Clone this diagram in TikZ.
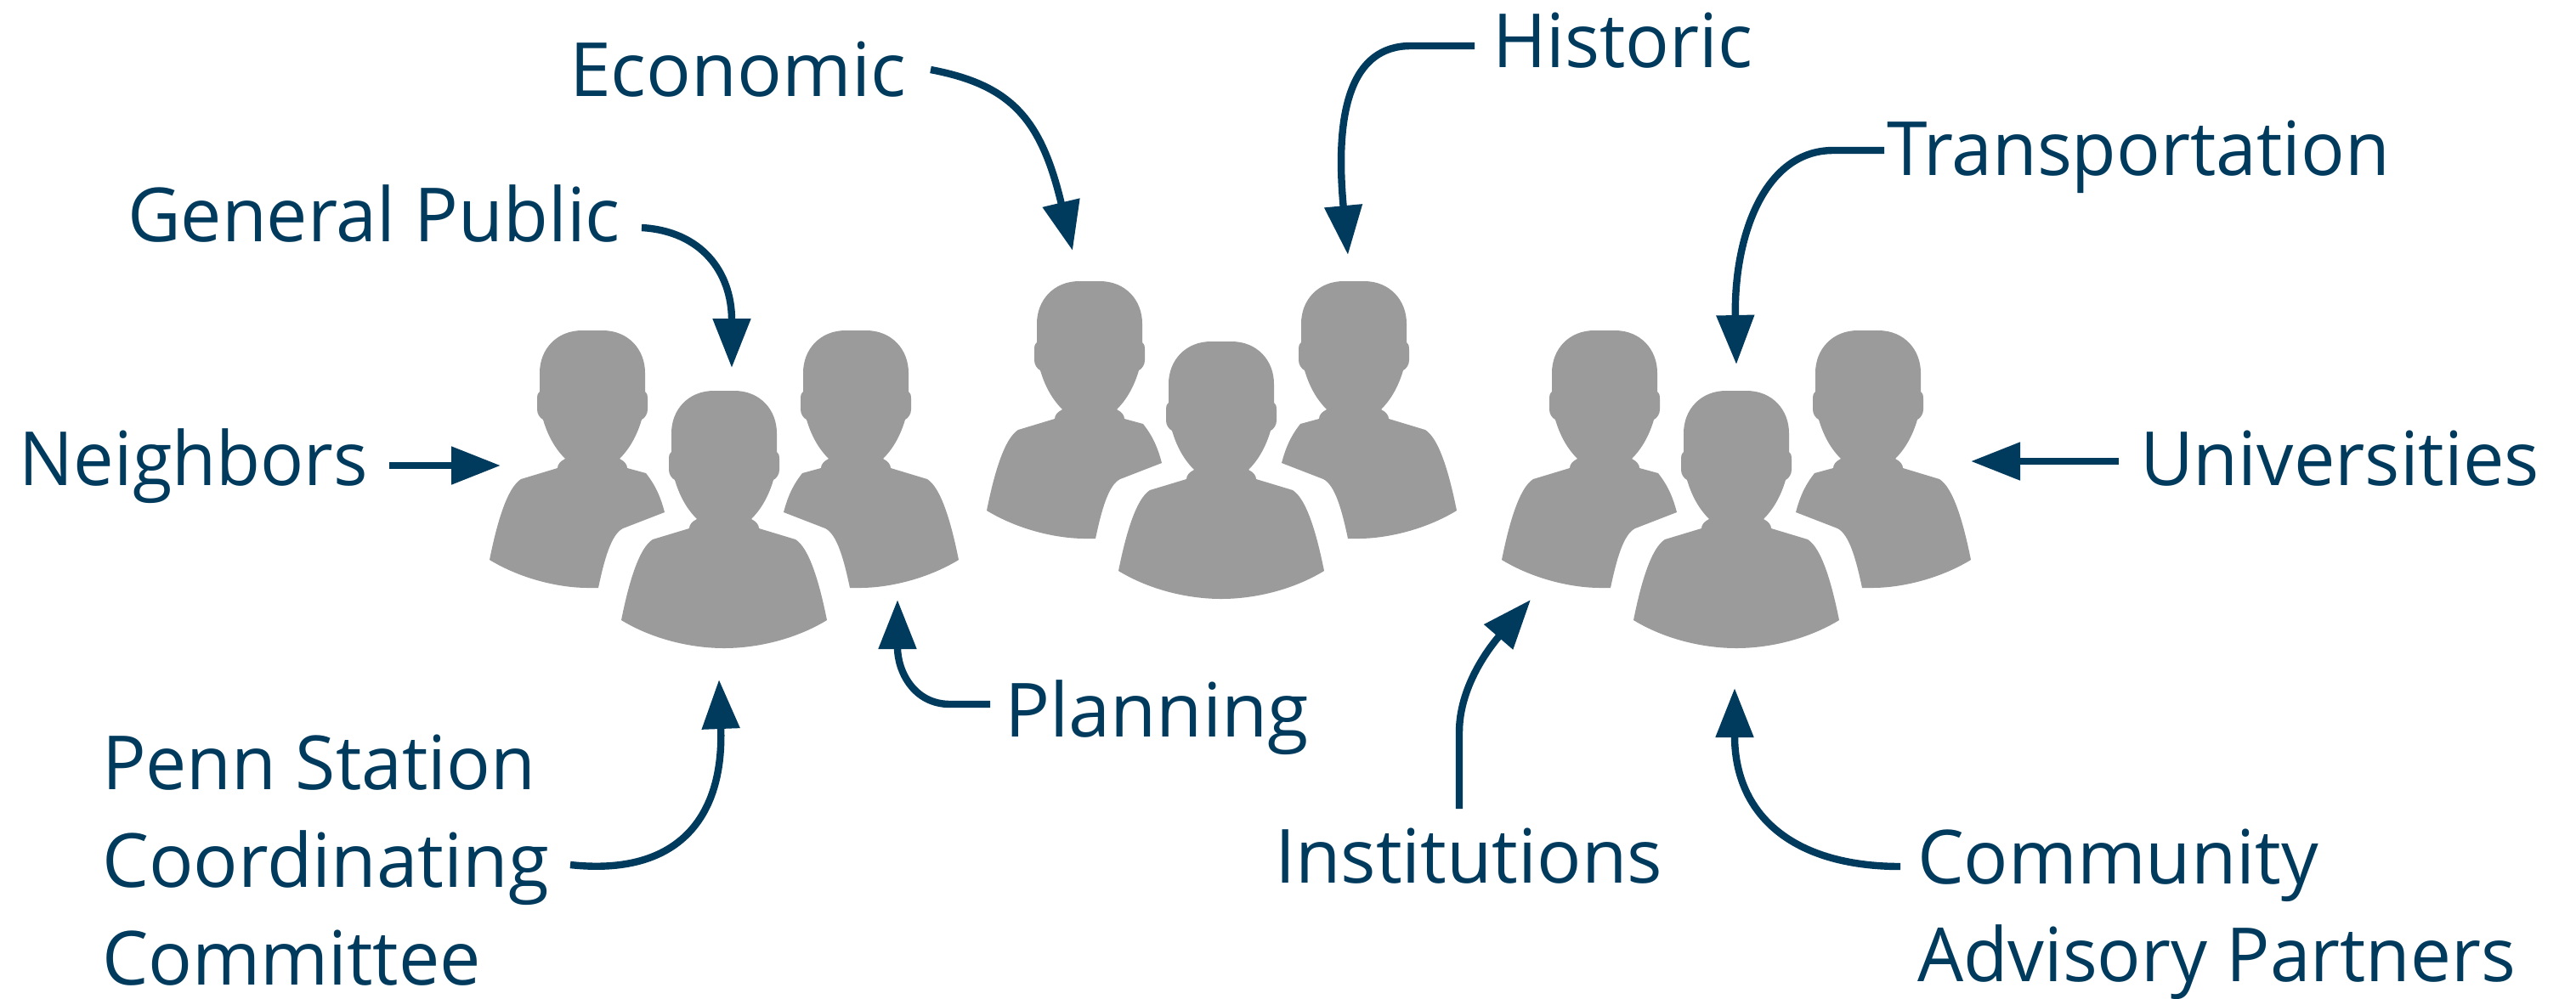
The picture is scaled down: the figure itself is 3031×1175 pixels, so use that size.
\documentclass[tikz,border=0pt]{standalone}
\usepackage{fontspec}
\usepackage{graphicx}
\setmainfont{Open Sans}
\usetikzlibrary{arrows.meta}
\definecolor{navy}{HTML}{003A5D}
\definecolor{figgray}{HTML}{9B9B9B}
\newsavebox{\fitbox}
% \fitline{target width in px}{text}: sets text on one line, narrowed to the measured width
\newcommand{\fitline}[2]{\sbox{\fitbox}{#2}\pgfmathsetmacro{\fitratio}{(#1*0.5)/(\wd\fitbox/1pt)}\scalebox{\fitratio}[1]{\usebox{\fitbox}}}
\tikzset{
  x=0.5pt,y=-0.5pt,
  lbl/.style={inner sep=0pt,outer sep=0pt,anchor=base west,text=navy,font=\fontsize{44}{57.5}\selectfont},
  conn/.style={draw=navy,line width=4.2pt,-{Triangle[length=29pt,width=21.5pt]}},
  person/.style={fill=figgray,draw=none},
}
% full figure: #1 = centre x, #2 = top y
\newcommand{\fullperson}[2]{%
\fill[person,shift={(#1,#2)}] (-12,0) .. controls (-42,0) and (-62,22) .. (-62,50) -- (-62,72)
 .. controls (-65,75) and (-65,77) .. (-65,80) -- (-65,93) .. controls (-65,98) and (-62,103) .. (-58,105)
 .. controls (-53,122) and (-45,138) .. (-32,151) .. controls (-38,154) and (-41,158) .. (-41,162)
 -- (-84,175) .. controls (-100,185) and (-112,225) .. (-121,270)
 .. controls (-85,292) and (-40,303) .. (0,303) .. controls (40,303) and (85,292) .. (121,270)
 .. controls (112,225) and (100,185) .. (84,175) -- (41,162) .. controls (41,158) and (38,154) .. (32,151)
 .. controls (45,138) and (53,122) .. (58,105) .. controls (62,103) and (65,98) .. (65,93) -- (65,80)
 .. controls (65,77) and (65,75) .. (62,72) -- (62,50) .. controls (62,22) and (42,0) .. (12,0) -- cycle;}
% back figure, open to the right; mirror with #3=-1
\newcommand{\backperson}[3]{%
\fill[person,shift={(#1,#2)},xscale=#3] (-12,0) .. controls (-42,0) and (-62,22) .. (-62,50) -- (-62,72)
 .. controls (-65,75) and (-65,77) .. (-65,80) -- (-65,93) .. controls (-65,98) and (-62,103) .. (-58,105)
 .. controls (-53,122) and (-45,138) .. (-32,151) .. controls (-38,154) and (-41,158) .. (-41,162)
 -- (-84,175) .. controls (-100,185) and (-112,225) .. (-121,270)
 .. controls (-85,292) and (-40,303) .. (-5,303) -- (7,303) .. controls (14,270) and (22,240) .. (36,233)
 -- (85,214) .. controls (80,195) and (74,182) .. (63,168) -- (41,162) .. controls (41,158) and (38,154) .. (32,151)
 .. controls (45,138) and (53,122) .. (58,105) .. controls (62,103) and (65,98) .. (65,93) -- (65,80)
 .. controls (65,77) and (65,75) .. (62,72) -- (62,50) .. controls (62,22) and (42,0) .. (12,0) -- cycle;}
\begin{document}
\begin{tikzpicture}
\useasboundingbox (0,0) rectangle (3031,1175);
% figures
\backperson{697}{389}{1}\backperson{1007}{389}{-1}\fullperson{852}{460}
\backperson{1282}{331}{1}\backperson{1593}{331}{-1}\fullperson{1437}{402}
\backperson{1888}{389}{1}\backperson{2198}{389}{-1}\fullperson{2043}{460}
% labels
\node[lbl] (neighbors) at (23,571) {\fitline{410}{Neighbors}};
\node[lbl] (public) at (150,284) {\fitline{580}{General Public}};
\node[lbl] (economic) at (670,113) {\fitline{396}{Economic}};
\node[lbl] (historic) at (1756,79) {\fitline{306}{Historic}};
\node[lbl] (transport) at (2220,206) {\fitline{592}{Transportation}};
\node[lbl] (univ) at (2518,571) {\fitline{470}{Universities}};
\node[lbl] (planning) at (1182,867) {\fitline{358}{Planning}};
\node[lbl] (institutions) at (1500,1039) {\fitline{456}{Institutions}};
\node[lbl,align=left] (penn) at (120,1159) {\fitline{510}{Penn Station}\\[0pt]\fitline{526}{Coordinating}\\[0pt]\fitline{446}{Committee}};
\node[lbl,align=left] (cap) at (2256,1155) {\fitline{472}{Community}\\[0pt]\fitline{704}{Advisory Partners}};
% connector ends
\coordinate (n1) at (458,548); \coordinate (n2) at (589,548);
\coordinate (g1) at (755,268); \coordinate (g2) at (861,433);
\coordinate (e1) at (1095,82); \coordinate (e2) at (1262,295);
\coordinate (h1) at (1735,54); \coordinate (h2) at (1586,300);
\coordinate (t1) at (2217,177); \coordinate (t2) at (2043,429);
\coordinate (u1) at (2493,543); \coordinate (u2) at (2319,543);
\coordinate (p1) at (1165,829); \coordinate (p2) at (1056,706);
\coordinate (c1) at (671,1018); \coordinate (c2) at (846,800);
\coordinate (i1) at (1717,952); \coordinate (i2) at (1801,706);
\coordinate (a1) at (2236,1020); \coordinate (a2) at (2041,810);
% connectors
\draw[conn] (n1) -- (n2);
\draw[conn] (g1) .. controls (825,272) and (861,320) .. (g2);
\draw[conn] (e1) .. controls (1190,100) and (1225,140) .. (e2);
\draw[conn] (h1) -- (1660,54) .. controls (1590,54) and (1570,130) .. (h2);
\draw[conn] (t1) -- (2157,177) .. controls (2075,177) and (2040,280) .. (t2);
\draw[conn] (u1) -- (u2);
\draw[conn] (p1) -- (1118,829) .. controls (1075,829) and (1056,790) .. (p2);
\draw[conn] (c1) .. controls (800,1032) and (852,960) .. (c2);
\draw[conn] (i1) -- (1717,862) .. controls (1717,810) and (1750,765) .. (i2);
\draw[conn] (a1) .. controls (2110,1020) and (2041,960) .. (a2);
\end{tikzpicture}
\end{document}
